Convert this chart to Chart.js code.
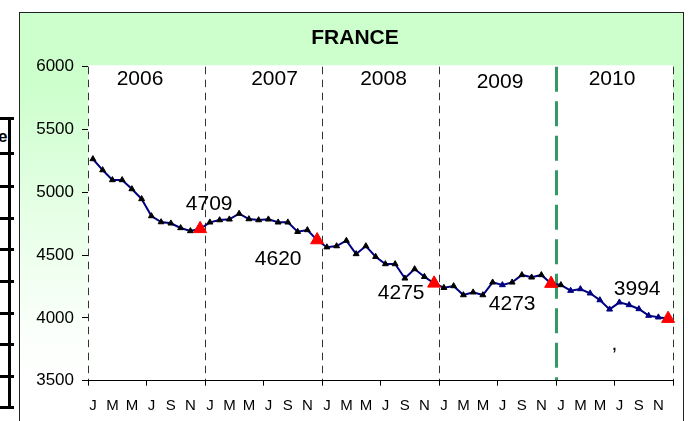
<!DOCTYPE html>
<html>
<head>
<meta charset="utf-8">
<script src="https://cdn.jsdelivr.net/npm/chart.js@4/dist/chart.umd.min.js"></script>
<style>
html,body{margin:0;padding:0;background:#fff;width:688px;height:421px;overflow:hidden;font-family:'Liberation Sans',Arial,sans-serif;}
#frame{position:absolute;left:19px;top:12px;width:663px;height:420px;border:1px solid #222;border-bottom:none;
  background:linear-gradient(to bottom,#ccffcc 0px,#ccffcc 70px,#e4ffe4 190px,#fbfffb 320px,#ffffff 380px);}
#wrap{position:absolute;left:20px;top:13px;width:663px;height:408px;}
#side{position:absolute;left:-3px;top:0;width:17px;height:421px;}
.hl{position:absolute;left:0;width:17px;height:3px;background:#000;}
.vl{position:absolute;left:11px;width:3px;background:#000;}
#side .e{position:absolute;left:1px;top:127px;font-weight:bold;font-size:17px;line-height:20px;color:#000;}
</style>
</head>
<body>
<div id="side"></div>
<div id="frame"></div>
<div id="wrap"><canvas id="c" width="663" height="408"></canvas></div>
<script>
// ---- data ----
const months = ['J','F','M','A','M','J','J','A','S','O','N','D'];
const years = ['2006','2007','2008','2009','2010'];
const v2006 = [5265,5177,5098,5098,5026,4947,4811,4763,4753,4716,4692,4709];
const v2007 = [4761,4779,4785,4830,4787,4779,4785,4761,4761,4686,4700,4620];
const v2008 = [4563,4572,4615,4509,4572,4487,4429,4429,4315,4389,4328,4275];
const v2009 = [4240,4254,4182,4204,4182,4283,4262,4283,4342,4323,4342,4273];
const v2010 = [4262,4217,4230,4196,4142,4068,4124,4103,4071,4018,4005,3994];
const yTicks = [3500,4000,4500,5000,5500,6000];
const chartTitle = 'FRANCE';
const sideHeader = 'e';

const categories = [];
years.forEach(() => months.forEach(m => categories.push(m)));
const values = [].concat(v2006, v2007, v2008, v2009, v2010);
const markedIdx = [11, 23, 35, 47, 59];
const navyIdx = [42, 49, 50, 51, 52, 53, 54, 55, 56, 57, 58];

// ---- left cut-off table (decoration) ----
const side = document.getElementById('side');
const rowLines = [117, 152, 185, 217, 248, 280, 312, 343, 375, 406];
rowLines.forEach(y => { const d = document.createElement('div'); d.className = 'hl'; d.style.top = y + 'px'; side.appendChild(d); });
const vl = document.createElement('div'); vl.className = 'vl';
vl.style.top = rowLines[0] + 'px'; vl.style.height = (rowLines[rowLines.length-1] - rowLines[0] + 3) + 'px';
side.appendChild(vl);
const eh = document.createElement('div'); eh.className = 'e'; eh.textContent = sideHeader; side.appendChild(eh);

const FONT = "'Liberation Sans', Arial, sans-serif";
Chart.defaults.font.family = FONT;
Chart.defaults.color = '#000';

// label placement (style only)
const valueLabelOffsets = { 11: [9, -25], 23: [-39, 19], 35: [-33, 10], 47: [-39, 21], 59: [-31, -29] };
const yearLabelOffsets = [[-6.5, 12.5], [11, 12.5], [3, 12.5], [2.5, 15.5], [-2.5, 12.5]];

const plotBg = {
  id: 'plotBg',
  beforeDraw(chart) {
    const { ctx, chartArea: a } = chart;
    ctx.save();
    ctx.fillStyle = '#ffffff';
    ctx.fillRect(a.left, a.top - 1.5, a.right - a.left, a.bottom - a.top + 1.5);
    ctx.restore();
  }
};

const texts = {
  id: 'texts',
  afterDatasetsDraw(chart) {
    const { ctx, chartArea: a } = chart;
    const xs = chart.scales.x, ys = chart.scales.y;
    ctx.save();
    ctx.fillStyle = '#000';
    ctx.textAlign = 'center';
    ctx.textBaseline = 'middle';
    // title
    ctx.font = 'bold 21px ' + FONT;
    ctx.fillText(chartTitle, chart.width / 2 + 3.5, 25);
    // year labels
    ctx.font = '21px ' + FONT;
    years.forEach((yr, k) => {
      const cx = (xs.getPixelForValue(k * 12) + xs.getPixelForValue(k * 12 + 11)) / 2;
      const off = yearLabelOffsets[k];
      ctx.fillText(yr, cx + off[0], a.top + off[1]);
    });
    // value labels
    markedIdx.forEach(i => {
      const px = xs.getPixelForValue(i), py = ys.getPixelForValue(values[i]);
      const off = valueLabelOffsets[i];
      ctx.fillText(String(values[i]), px + off[0], py + off[1]);
    });
    // stray comma visible in the reference
    ctx.fillText(',', xs.getPixelForValue(54) - 5, ys.getPixelForValue(values[54]) + 42);
    ctx.restore();
  }
};

const isMarked = i => markedIdx.includes(i);
const markerColor = i => isMarked(i) ? '#ff0000' : (navyIdx.includes(i) ? '#000080' : '#000000');

new Chart(document.getElementById('c'), {
  type: 'line',
  data: {
    labels: categories,
    datasets: [{
      data: values,
      borderColor: '#000080',
      borderWidth: 2,
      tension: 0,
      fill: false,
      pointStyle: 'triangle',
      pointRadius: c => isMarked(c.dataIndex) ? 7.5 : 3.4,
      pointBackgroundColor: c => markerColor(c.dataIndex),
      pointBorderColor: c => markerColor(c.dataIndex),
      pointBorderWidth: 1
    }]
  },
  options: {
    responsive: false,
    animation: false,
    devicePixelRatio: 1,
    layout: { padding: { left: 0, right: 10, top: 53.7, bottom: 0 } },
    plugins: { legend: { display: false }, tooltip: { enabled: false }, title: { display: false } },
    scales: {
      x: {
        type: 'category',
        offset: true,
        afterFit: s => { s.height = 40.3; },
        grid: {
          offset: true,
          drawOnChartArea: true,
          color: c => (c.index === undefined || c.index % 12 === 0) ? (c.index === 48 ? '#339966' : '#333333') : 'rgba(0,0,0,0)',
          lineWidth: c => c.index === 48 ? 3 : 1,
          tickColor: c => (c.index === undefined || c.index % 6 === 0) ? '#000' : 'rgba(0,0,0,0)',
          tickLength: 5,
          tickWidth: 1,
          tickBorderDash: []
        },
        border: {
          display: true, color: '#000', width: 1,
          dash: c => c.index === 48 ? [25, 9.5] : [7.5, 5.5]
        },
        ticks: {
          autoSkip: false, maxRotation: 0, minRotation: 0, padding: 11,
          font: { size: 15 },
          callback: function (val, index) { return index % 2 === 0 ? this.getLabelForValue(val) : ''; }
        }
      },
      y: {
        type: 'linear',
        min: yTicks[0],
        max: yTicks[yTicks.length - 1],
        afterFit: s => { s.width = 68; },
        grid: { drawOnChartArea: false, drawTicks: true, tickLength: 6, tickColor: '#000', color: '#000' },
        border: { display: false },
        ticks: { stepSize: yTicks[1] - yTicks[0], padding: 8, font: { size: 17 }, callback: v => String(v) }
      }
    }
  },
  plugins: [plotBg, texts]
});
</script>
</body>
</html>
